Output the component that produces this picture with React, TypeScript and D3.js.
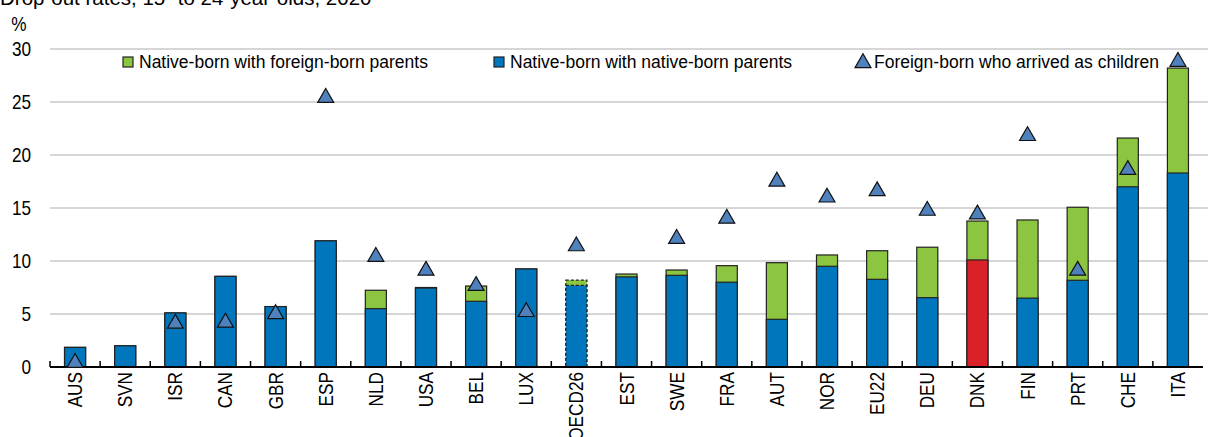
import React from "react";
import * as d3 from "d3";

const categories = ["AUS","SVN","ISR","CAN","GBR","ESP","NLD","USA","BEL","LUX","OECD26","EST","SWE","FRA","AUT","NOR","EU22","DEU","DNK","FIN","PRT","CHE","ITA"];
const nativeNative = [1.85,2.0,5.1,8.55,5.7,11.9,5.5,7.45,6.2,9.25,7.7,8.5,8.65,8.0,4.5,9.5,8.27,6.54,10.1,6.5,8.18,17.0,18.3];
const totalNativeForeign = [1.85,2.0,5.1,8.55,5.7,11.9,7.24,7.5,7.64,9.25,8.2,8.77,9.15,9.56,9.84,10.57,10.97,11.3,13.77,13.87,15.07,21.6,28.2];
const foreignChildren: (number | null)[] = [0.4,null,4.1,4.2,5.0,25.4,10.4,9.1,7.66,5.2,11.4,null,12.1,14.0,17.5,16.0,16.6,14.75,14.4,21.8,9.1,18.6,28.8];
const yTicks = [0,5,10,15,20,25,30];

const BLUE = "#0077BD";
const GREEN = "#8CC641";
const RED = "#DA2128";
const TRI = "#4F81BD";
const FONT = "'Liberation Sans', Arial, sans-serif";
const NARROW = 0.86;

export default function App() {
  const W = 1208, H = 437;
  const left = 50, right = 1203, top = 49, bottom = 367;
  const x = d3.scaleBand<string>().domain(categories).range([left, right]).paddingInner(0.58).paddingOuter(0.29);
  const y = d3.scaleLinear().domain([0, 30]).range([bottom, top]);
  const step = x.step();
  const tri = d3.symbol().type(d3.symbolTriangle).size(110)();

  return (
    <svg width={W} height={H} style={{ position: "absolute", left: 0, top: 0, fontFamily: FONT }}>
      <text x={0} y={5} fontSize={20.5} fill="#000">Drop-out rates, 15- to 24-year-olds, 2020</text>
      <text transform={`translate(19,31) scale(${NARROW},1)`} fontSize={20} textAnchor="middle" fill="#000">%</text>
      {yTicks.map(t => (
        <g key={t}>
          {t > 0 && <line x1={left} x2={right + 5} y1={y(t)} y2={y(t)} stroke="#C8C8C8" strokeWidth={1.5} />}
          <text transform={`translate(31,${y(t) + 7}) scale(${NARROW},1)`} fontSize={20} textAnchor="end" fill="#000">{t}</text>
        </g>
      ))}
      {categories.map((c, i) => {
        const bx = x(c)!;
        const bw = x.bandwidth();
        const nn = nativeNative[i];
        const tot = totalNativeForeign[i];
        const dashed = c === "OECD26";
        return (
          <g key={c}>
            <rect x={bx} y={y(tot)} width={bw} height={y(0) - y(tot)} fill={GREEN} stroke="#222" strokeWidth={1.2} strokeDasharray={dashed ? "3,2" : undefined} />
            <rect x={bx} y={y(nn)} width={bw} height={y(0) - y(nn)} fill={c === "DNK" ? RED : BLUE} stroke="#222" strokeWidth={1.2} strokeDasharray={dashed ? "3,2" : undefined} />
          </g>
        );
      })}
      <line x1={left} x2={right} y1={bottom} y2={bottom} stroke="#000" strokeWidth={2} />
      {d3.range(categories.length).map(i => (
        <line key={i} x1={left + i * step} x2={left + i * step} y1={bottom} y2={bottom - 6} stroke="#000" strokeWidth={1.5} />
      ))}
      {categories.map((c, i) => {
        const v = foreignChildren[i];
        if (v == null) return null;
        return <path key={c} d={tri!} transform={`translate(${x(c)! + x.bandwidth() / 2},${y(v)})`} fill={TRI} stroke="#111" strokeWidth={1.2} />;
      })}
      {categories.map(c => {
        const cx = x(c)! + x.bandwidth() / 2;
        return (
          <text key={c} transform={`translate(${cx + 7},${bottom + 5}) rotate(-90) scale(${NARROW},1)`} fontSize={20} textAnchor="end" fill="#000">{c}</text>
        );
      })}
      {/* legend */}
      <rect x={123} y={57} width={10} height={10} fill={GREEN} stroke="#222" strokeWidth={1.2} />
      <text x={139} y={68} fontSize={17.5} fill="#000">Native-born with foreign-born parents</text>
      <rect x={494} y={57} width={10} height={10} fill={BLUE} stroke="#222" strokeWidth={1.2} />
      <text x={510} y={68} fontSize={17.5} fill="#000">Native-born with native-born parents</text>
      <path d={tri!} transform="translate(863,63)" fill={TRI} stroke="#111" strokeWidth={1.2} />
      <text x={874} y={68} fontSize={17.5} fill="#000">Foreign-born who arrived as children</text>
    </svg>
  );
}
